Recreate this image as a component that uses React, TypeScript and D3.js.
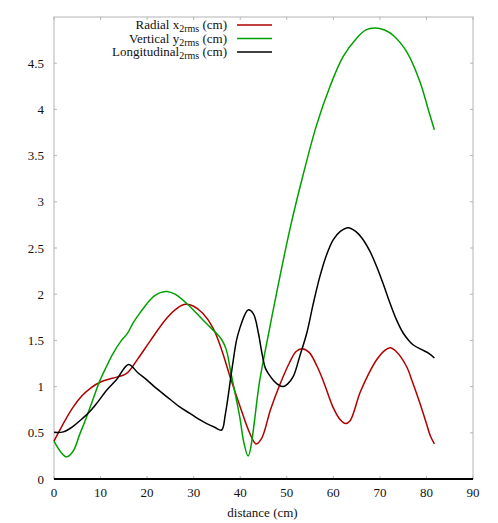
import React from 'react';
import * as d3 from 'd3';

// distance (cm) / size (cm)
const radialX = [0, 2, 4, 6, 8, 10, 12.5, 15.5, 18, 20.6, 24.2, 26.5, 28.3, 30, 32, 34.2, 36, 37.8, 40, 42.1, 43.4, 44.6, 46.5, 48.5, 50.5, 52, 53.3, 54.8, 56.5, 58, 60, 61.5, 62.6, 63.6, 65.7, 67.5, 69.3, 71, 72.2, 73.5, 75.7, 77, 78.6, 80, 80.8, 81.7];
const radialY = [0.41, 0.6, 0.77, 0.9, 0.99, 1.05, 1.09, 1.14, 1.3, 1.49, 1.74, 1.85, 1.89, 1.87, 1.79, 1.63, 1.4, 1.11, 0.78, 0.49, 0.38, 0.44, 0.75, 1.02, 1.25, 1.38, 1.41, 1.37, 1.22, 1.04, 0.77, 0.64, 0.6, 0.63, 0.93, 1.13, 1.29, 1.39, 1.42, 1.38, 1.22, 1.05, 0.82, 0.6, 0.47, 0.38];

const verticalX = [0, 1.5, 2.7, 4.1, 5.5, 7, 8.5, 9.9, 11.3, 12.7, 14.5, 15.7, 17, 18.5, 20, 21.5, 23, 24.3, 26, 28.5, 30.5, 32.8, 35, 36, 37, 38, 39.9, 40.8, 41.7, 44.2, 46, 47.8, 50.7, 53.5, 56.4, 59.3, 62.1, 65, 67, 68.9, 71, 72.9, 75.8, 78.6, 80.5, 81.7];
const verticalY = [0.41, 0.29, 0.24, 0.3, 0.48, 0.67, 0.88, 1.07, 1.22, 1.36, 1.5, 1.57, 1.69, 1.8, 1.9, 1.98, 2.02, 2.03, 2.0, 1.9, 1.8, 1.68, 1.57, 1.51, 1.4, 1.15, 0.67, 0.39, 0.25, 1.07, 1.55, 2.01, 2.71, 3.29, 3.83, 4.25, 4.57, 4.77, 4.86, 4.88, 4.86, 4.8, 4.62, 4.3, 3.98, 3.78];

const longX = [0, 2, 4.1, 6, 7.7, 9.5, 11.3, 13.5, 16, 18, 20, 22, 25, 27, 29.2, 31, 32.8, 34.5, 36, 36.8, 38.2, 39.2, 39.9, 41, 41.7, 42.8, 43.9, 44.6, 45.4, 46.2, 47.1, 48.2, 49.2, 50.2, 51.4, 52.8, 54.3, 55.7, 57.1, 58.5, 60, 61.5, 63.2, 64.8, 66.4, 67.9, 69.3, 70.8, 72.2, 73.6, 75, 76.2, 77.2, 79, 80.5, 81.7];
const longY = [0.505, 0.51, 0.57, 0.65, 0.73, 0.84, 0.96, 1.08, 1.24, 1.15, 1.07, 0.98, 0.86, 0.78, 0.71, 0.65, 0.6, 0.56, 0.53, 0.7, 1.18, 1.5, 1.63, 1.78, 1.83, 1.79, 1.58, 1.38, 1.2, 1.13, 1.07, 1.02, 1.0, 1.03, 1.11, 1.33, 1.58, 1.9, 2.19, 2.42, 2.59, 2.68, 2.72, 2.68, 2.59, 2.46, 2.3, 2.1, 1.9, 1.72, 1.58, 1.5, 1.45, 1.4, 1.36, 1.31];

const xTicks = [0, 10, 20, 30, 40, 50, 60, 70, 80, 90];
const yTicks = [0, 0.5, 1, 1.5, 2, 2.5, 3, 3.5, 4, 4.5];

const series = [
  { name: 'Radial x', sub: '2rms', xs: radialX, ys: radialY, color: '#b00000' },
  { name: 'Vertical y', sub: '2rms', xs: verticalX, ys: verticalY, color: '#00a000' },
  { name: 'Longitudinal', sub: '2rms', xs: longX, ys: longY, color: '#000000' },
];

export default function App() {
  const width = 498;
  const height = 523;
  const margin = { top: 17, right: 25, bottom: 44, left: 54 };
  const innerW = width - margin.left - margin.right;
  const innerH = height - margin.top - margin.bottom;

  const x = d3.scaleLinear().domain([0, 90]).range([0, innerW]);
  const y = d3.scaleLinear().domain([0, 5]).range([innerH, 0]);

  const line = d3.line<[number, number]>()
    .x(d => x(d[0]))
    .y(d => y(d[1]))
    .curve(d3.curveCatmullRom.alpha(0.5));

  const textStyle = { fontFamily: "'Liberation Serif', 'DejaVu Serif', serif" };
  const grey = '#b4b4b4';

  return (
    <div style={{ position: 'absolute', left: 0, top: 0 }}>
      <svg width={width} height={height} style={{ display: 'block', background: '#fff' }}>
        <g transform={`translate(${margin.left},${margin.top})`}>
          <rect x={0} y={0} width={innerW} height={innerH} fill="none" stroke={grey} strokeWidth={1} />

          {xTicks.map(t => (
            <g key={'x' + t}>
              <line x1={x(t)} x2={x(t)} y1={0} y2={3} stroke={grey} />
              <line x1={x(t)} x2={x(t)} y1={innerH} y2={innerH - 3} stroke={grey} />
              <text x={x(t)} y={innerH + 18} textAnchor="middle" fontSize={13} fill="#111" style={textStyle}>{t}</text>
            </g>
          ))}

          {yTicks.map(t => (
            <g key={'y' + t}>
              <line x1={0} x2={3} y1={y(t)} y2={y(t)} stroke={grey} />
              <line x1={innerW} x2={innerW - 3} y1={y(t)} y2={y(t)} stroke={grey} />
              <text x={-10} y={y(t) + 4.5} textAnchor="end" fontSize={13} fill="#111" style={textStyle}>{t}</text>
            </g>
          ))}

          {series.map(s => (
            <path
              key={s.name}
              d={line(s.xs.map((v, i) => [v, s.ys[i]] as [number, number])) || ''}
              fill="none"
              stroke={s.color}
              strokeWidth={1.5}
            />
          ))}

          <line x1={0} x2={innerW} y1={innerH} y2={innerH} stroke="#000" strokeWidth={2} />

          <text x={innerW / 2 - 1} y={innerH + 38} textAnchor="middle" fontSize={13} fill="#111" style={textStyle}>distance (cm)</text>
        </g>

        <g>
          {series.map((s, i) => {
            const by = 29 + i * 13.5;
            return (
              <g key={'lg' + s.name}>
                <text x={227} y={by} textAnchor="end" fontSize={13} fill="#111" style={textStyle}>
                  {s.name}
                  <tspan fontSize={10} dy={3}>{s.sub}</tspan>
                  <tspan dy={-3}> (cm)</tspan>
                </text>
                <line x1={237} x2={272} y1={by - 4} y2={by - 4} stroke={s.color} strokeWidth={1.5} />
              </g>
            );
          })}
        </g>
      </svg>
    </div>
  );
}
